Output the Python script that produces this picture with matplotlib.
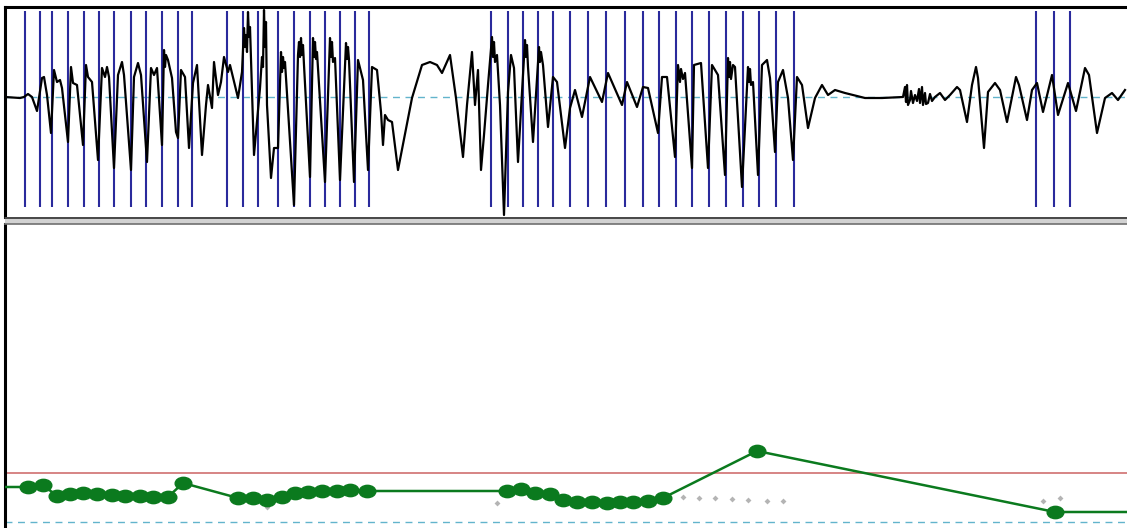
import matplotlib
matplotlib.use("Agg")
import matplotlib.pyplot as plt
from matplotlib.patches import Rectangle
from matplotlib.path import Path
from matplotlib.transforms import Affine2D

# ---------------- data ----------------
# speech waveform: time (sample index) and amplitude
wave_t = [5, 20, 24, 28, 32, 37, 42, 44, 47, 51, 54, 57, 60, 62, 68, 71, 73, 77, 83, 86, 88, 92, 98,
          102, 105, 107, 109, 114, 118, 122, 124, 131, 134, 138, 141, 147, 151, 154, 157, 162,
          164, 165, 166, 168, 172, 176, 178, 181, 185, 189, 193, 197, 202, 206, 208, 212, 214,
          218, 221, 224, 228, 230, 238, 242, 244, 245, 246, 247, 248, 249, 250, 254, 260, 262,
          263, 264, 265, 266, 267, 271, 274, 278, 281, 282, 283, 284, 285, 294,
          298, 299, 300, 301, 302, 303, 304, 310, 313, 314, 315, 316, 317, 325,
          330, 331, 332, 333, 335, 340, 346, 347, 348, 349, 354, 358, 363, 368, 372, 377, 381, 383,
          385, 388, 392, 398, 412, 422, 430, 437, 442, 450, 456, 463, 467, 472, 475, 478, 481, 484,
          488, 492, 493, 494, 495, 497, 500, 504, 508, 511, 514, 518, 525, 526, 527, 528, 533,
          539, 540, 541, 543, 548, 553, 557, 565,
          570, 575, 582, 590, 602, 608, 622, 627, 637, 643, 648, 658, 662, 667, 675,
          678, 680, 681, 683, 685, 692, 694, 701, 708, 712, 718, 725,
          728, 729, 730, 731, 733, 735, 742, 748, 749, 750, 751, 753, 758, 762, 767, 770, 775,
          778, 783, 788, 793, 797, 802, 808, 815, 822, 828, 835, 845, 865, 882,
          903, 905, 906, 907, 908, 910, 911, 913, 915, 917, 919, 920, 922, 923, 925, 926, 928,
          930, 932, 935, 940, 945, 950, 957, 960, 967, 972, 976, 978, 984, 988, 995, 1000, 1007,
          1016, 1019, 1027, 1032, 1037, 1043, 1052, 1058, 1068, 1076, 1085, 1089, 1097, 1105,
          1112, 1118, 1125]
wave_amp = [0, -1, 0, 3, 0, -14, 19, 20, 2, -36, 27, 15, 17, 9, -45, 30, 14, 12, -48, 32, 20, 15, -63,
            29, 20, 30, 20, -71, 22, 35, 22, -73, 20, 34, 22, -65, 29, 22, 29, -48,
            47, 30, 42, 37, 19, -35, -41, 27, 20, -51, 14, 32, -58, -8, 12, -11, 35,
            2, 15, 40, 25, 32, -1, 25, 69, 50, 62, 45, 85, 60, 70, -58, 9, 40,
            30, 87, 50, 75, -8, -81, -51, -51, 45, 25, 40, 29, 35, -108,
            42, 55, 40, 59, 42, 52, 32, -80, 59, 40, 55, 38, 45, -85,
            59, 40, 55, 35, 39, -83, 54, 38, 50, 37, -85, 37, 17, -73, 30, 27, -15, -48,
            -18, -23, -25, -73, -1, 32, 35, 32, 24, 42, -1, -60, -8, 45, -8, 27, -73, -38,
            12, 60, 40, 55, 35, 42, -8, -118, 5, 42, 29, -65, 57, 40, 52, 30, -45,
            50, 35, 45, 32, -30, 20, 15, -51,
            -11, 7, -20, 20, -5, 24, -8, 15, -10, 10, 9, -36, 20, 20, -60,
            32, 15, 28, 18, 24, -71, 32, 34, -71, 32, 22, -78,
            39, 20, 35, 18, 32, 30, -90, 30, 15, 28, 12, 15, -78, 32, 37, 19, -55,
            15, 27, -1, -63, 20, 12, -31, -1, 12, 2, 7, 4, -1, -1,
            0, 10, -5, 12, -8, -3, 6, -6, 2, -4, 8, -6, 10, -8, 4, -7, -6,
            3, -4, 0, 4, -3, 2, 10, 7, -25, 12, 30, 19, -51, 5, 14, 7, -25,
            20, 12, -23, 7, 14, -15, 22, -18, 14, -14, 29, 22, -36, -1,
            4, -3, 7]

# pitch marks (glottal pulse positions)
pitch_marks = [25, 40, 52, 68, 84, 99, 114, 131, 146, 162, 178, 192, 227, 243, 258, 278, 294, 310,
               325, 340, 355, 369, 491, 508, 523, 538, 553, 570, 588, 606, 625, 643, 659, 676, 692,
               709, 726, 743, 759, 776, 794, 1036, 1054, 1070]

# pitch contour (green points)
pitch_t = [28, 43, 57, 70, 83, 97, 112, 125, 140, 153, 168, 183, 238, 253, 267, 282, 295, 308, 322,
           337, 350, 367, 507, 521, 535, 550, 563, 577, 592, 607, 620, 633, 648, 663, 757, 1055]
pitch_val = [41, 43, 32, 34, 35, 34, 33, 32, 32, 31, 31, 45, 30, 30, 28, 31, 35, 36, 37,
             37, 38, 37, 37, 39, 35, 34, 28, 26, 26, 25, 26, 26, 27, 30, 77, 16]

# raw candidate values (grey diamonds)
cand_t = [267, 497, 683, 699, 715, 732, 748, 767, 783, 1043, 1060]
cand_val = [21, 25, 31, 30, 30, 29, 28, 27, 27, 27, 30]

ref_level = 55     # red reference line
base_level = 6     # dashed base line

# ---------------- figure ----------------
W, H = 1127, 528
fig = plt.figure(figsize=(W / 100, H / 100), dpi=100)
fig.patch.set_facecolor("white")

# top panel: waveform
ax1 = fig.add_axes([5 / W, 311 / H, 1122 / W, 210 / H])
ax1.set_xlim(5, 1127)
ax1.set_ylim(-120, 90)
ax1.axhline(0, color="#62b4cc", lw=1.0, ls=(0, (5, 4)), zorder=1)
ax1.vlines(pitch_marks, -110, 86, color="#2a2a9c", lw=1.5, zorder=2)
ax1.plot(wave_t, wave_amp, color="black", lw=1.6, zorder=3)
for s in ["right", "bottom"]:
    ax1.spines[s].set_visible(False)
for s in ["left", "top"]:
    ax1.spines[s].set_linewidth(2.2)
    ax1.spines[s].set_color("black")
ax1.set_xticks([])
ax1.set_yticks([])

# separator band
fig.patches.append(Rectangle((5 / W, 304 / H), 1122 / W, 7 / H, transform=fig.transFigure,
                             facecolor="#d2d2d2", edgecolor="none", zorder=5))
fig.lines.append(plt.Line2D([5 / W, 1], [310.5 / H, 310.5 / H], transform=fig.transFigure,
                            color="#303030", lw=1.2, zorder=6))
fig.lines.append(plt.Line2D([5 / W, 1], [304.5 / H, 304.5 / H], transform=fig.transFigure,
                            color="#707070", lw=1.2, zorder=6))

# bottom panel: pitch contour
ax2 = fig.add_axes([5 / W, 0, 1122 / W, 304 / H])
ax2.set_xlim(5, 1127)
ax2.set_ylim(0, 304)
ax2.axhline(ref_level, color="#d07070", lw=1.2, zorder=1)
ax2.axhline(base_level, color="#62b4cc", lw=1.0, ls=(0, (5, 4)), zorder=1)
ax2.plot(cand_t, cand_val, ls="none", marker="D", ms=3, color="#b4b4b4", mec="none", zorder=2)
line_t = [ax2.get_xlim()[0]] + pitch_t + [ax2.get_xlim()[1]]
line_v = [pitch_val[0]] + pitch_val + [pitch_val[-1]]
ax2.plot(line_t, line_v, color="#0b7a1e", lw=1.8, zorder=3)
ellipse = Path.unit_circle().transformed(Affine2D().scale(1.35, 1.0))
ax2.plot(pitch_t, pitch_val, ls="none", marker=ellipse, ms=12, color="#0b7a1e",
         mec="#0b7a1e", zorder=4)
for s in ["right", "bottom", "top"]:
    ax2.spines[s].set_visible(False)
ax2.spines["left"].set_linewidth(2.2)
ax2.spines["left"].set_color("black")
ax2.set_xticks([])
ax2.set_yticks([])

fig.savefig("out.png", dpi=100, facecolor="white")
